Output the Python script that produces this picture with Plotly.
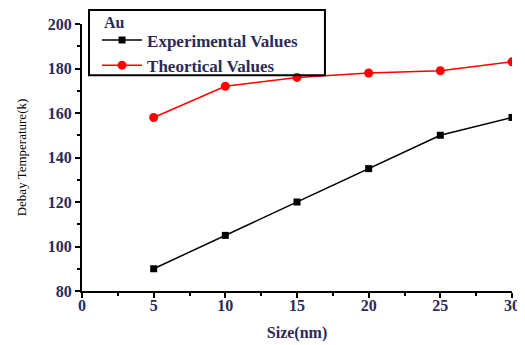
import plotly.graph_objects as go

sizes = [5, 10, 15, 20, 25, 30]
experimental = [90, 105, 120, 135, 150, 158]
theoretical = [158, 172, 176, 178, 179, 183]

FONT = "Liberation Serif, Times New Roman, serif"
TICKCOL = "#2b2b58"

fig = go.Figure()
fig.add_trace(go.Scatter(
    x=sizes, y=experimental, mode="lines+markers", name="Experimental Values",
    line=dict(color="black", width=1.5),
    marker=dict(symbol="square", size=7, color="black"),
))
fig.add_trace(go.Scatter(
    x=sizes, y=theoretical, mode="lines+markers", name="Theortical Values",
    line=dict(color="red", width=1.5),
    marker=dict(symbol="circle", size=9, color="red"),
))

axis_common = dict(
    showgrid=False, zeroline=False, showline=True, linecolor="black", linewidth=2,
    ticks="outside", ticklen=5, tickwidth=2, tickcolor="black",
    tickfont=dict(family=FONT, size=16, color=TICKCOL, weight="bold"),
    minor=dict(ticks="outside", ticklen=3, tickwidth=1.5, tickcolor="black"),
)

# the page body has an 8px margin; compensate so the plot area lands at
# x 82..512, y 24..291 in the window
fig.update_layout(
    width=525, height=345,
    margin=dict(l=74, r=21, t=16, b=62, autoexpand=False),
    paper_bgcolor="white", plot_bgcolor="white",
    font=dict(family=FONT, color="black"),
    xaxis=dict(range=[0, 30], tickvals=[0, 5, 10, 15, 20, 25, 30],
               minor_dtick=2.5, ticklabelstandoff=-6,
               title=dict(text="Size(nm)", font=dict(family=FONT, size=16, color=TICKCOL, weight="bold"), standoff=14),
               **axis_common),
    yaxis=dict(range=[80, 200], tickvals=[80, 100, 120, 140, 160, 180, 200],
               minor_dtick=10,
               title=dict(text="Debay Temperature(k)", font=dict(family=FONT, size=13, color="black"), standoff=18),
               **axis_common),
    showlegend=True,
    legend=dict(
        x=0.035, y=1.0056, xanchor="left", yanchor="top",
        borderwidth=0, bgcolor="rgba(0,0,0,0)",
        font=dict(family=FONT, size=17, color=TICKCOL, weight="bold"),
        tracegroupgap=0, itemwidth=40,
    ),
    shapes=[dict(type="rect", xref="paper", yref="paper",
                 x0=0.0163, x1=0.565, y0=0.808, y1=1.052,
                 line=dict(color="black", width=2), fillcolor="rgba(0,0,0,0)", layer="above")],
    annotations=[dict(text="Au", xref="paper", yref="paper", x=0.047, y=1.005,
                      xanchor="left", yanchor="middle", showarrow=False,
                      font=dict(family=FONT, size=16, color=TICKCOL, weight="bold"))],
)

fig.write_html("out.html")
